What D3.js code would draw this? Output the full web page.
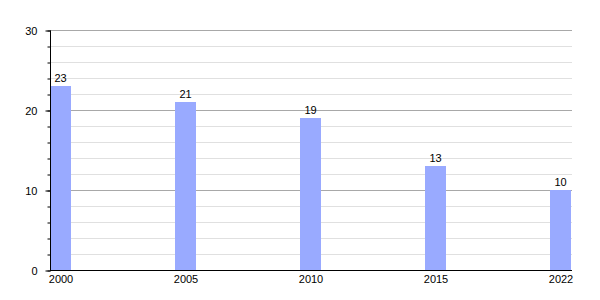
<!DOCTYPE html>
<html><head><meta charset="utf-8">
<script src="https://cdn.jsdelivr.net/npm/d3@7"></script>
<style>body{margin:0;background:#fff}svg{display:block}text{font-family:"Liberation Sans",Arial,sans-serif;font-size:11px;fill:#000}</style>
</head><body>
<svg id="c" width="600" height="300"></svg>
<script>
const years = ["2000","2005","2010","2015","2022"];
const values = [23,21,19,13,10];
const yTicks = [0,10,20,30];
const yMinorTicks = d3.range(0,31,2);

(function(){
const svg = d3.select("#c");
const mLeft = 50, mRight = 571, mTop = 30, mBottom = 270, barW = 21;
const x = d3.scalePoint().domain(years).range([mLeft + barW/2, mRight - barW/2]);
const y = d3.scaleLinear().domain([0,30]).range([mBottom, mTop]);

// minor gridlines
svg.append("g").selectAll("line").data(yMinorTicks.filter(d => d % 10 !== 0)).join("line")
  .attr("x1", mLeft).attr("x2", mRight + 1)
  .attr("y1", d => y(d) + 0.5).attr("y2", d => y(d) + 0.5)
  .attr("stroke", "#e0e0e0").attr("stroke-width", 1);
// major gridlines
svg.append("g").selectAll("line").data(yTicks.filter(d => d > 0)).join("line")
  .attr("x1", mLeft).attr("x2", mRight + 1)
  .attr("y1", d => y(d) + 0.5).attr("y2", d => y(d) + 0.5)
  .attr("stroke", "#a8a8a8").attr("stroke-width", 1);

// bars
svg.append("g").selectAll("rect").data(values).join("rect")
  .attr("x", (d,i) => x(years[i]) - barW/2)
  .attr("y", d => y(d))
  .attr("width", barW)
  .attr("height", d => y(0) - y(d))
  .attr("fill", "#99aaff");

// value labels
svg.append("g").selectAll("text").data(values).join("text")
  .attr("x", (d,i) => x(years[i]))
  .attr("y", d => y(d) - 4)
  .attr("text-anchor", "middle")
  .text(d => d);

// y axis (minor ticks)
const yMinorAxis = d3.axisLeft(y).tickValues(yMinorTicks).tickSize(3).tickFormat("");
const gm = svg.append("g").attr("transform", `translate(${mLeft + 0.5},0.5)`).call(yMinorAxis);
gm.select(".domain").remove();
gm.selectAll("line").attr("stroke", "#000");
// y axis major
const yAxis = d3.axisLeft(y).tickValues(yTicks).tickSize(5).tickPadding(8).tickFormat(d3.format("d"));
const ga = svg.append("g").attr("transform", `translate(${mLeft + 0.5},0.5)`).call(yAxis);
ga.select(".domain").attr("d", `M0,${mTop}V${mBottom}`).attr("stroke", "#000");
ga.selectAll("text").style("font-family", '"Liberation Sans",Arial,sans-serif').style("font-size", "11px").attr("fill", "#000");
ga.selectAll("line").attr("stroke", "#000");

// x axis
const xAxis = d3.axisBottom(x).tickSize(0).tickPadding(5);
const gx = svg.append("g").attr("transform", `translate(0,${mBottom + 0.5})`).call(xAxis);
gx.select(".domain").attr("d", `M${mLeft},0H${mRight + 1}`).attr("stroke", "#000");
gx.selectAll("text").style("font-family", '"Liberation Sans",Arial,sans-serif').style("font-size", "11px").attr("fill", "#000");
})();
</script>
</body></html>
